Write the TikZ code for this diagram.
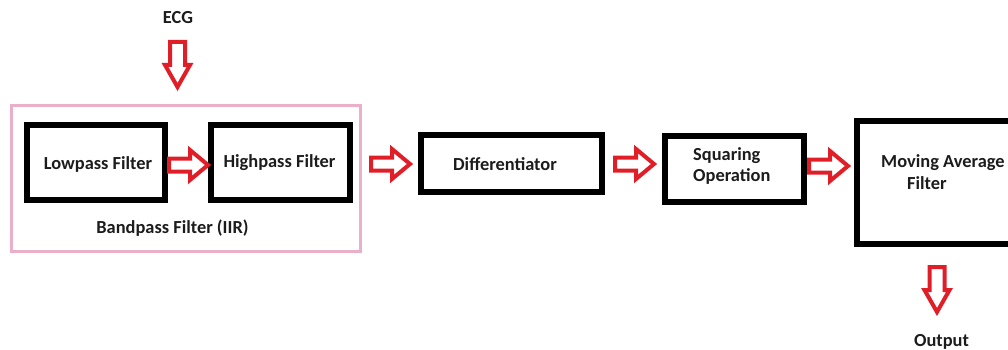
\documentclass[tikz,border=0pt]{standalone}
\usepackage{fontspec}
\setmainfont{Carlito}
\definecolor{arrowred}{RGB}{224,30,40}
\definecolor{bandpink}{RGB}{234,176,202}
\definecolor{labelblack}{RGB}{28,28,28}
\begin{document}
\begin{tikzpicture}[x=1pt,y=-1pt,
  blockbox/.style={draw=black,line width=5.5pt,rectangle,inner sep=0pt},
  lbl/.style={font=\fontsize{18.4}{21}\selectfont\bfseries,text=labelblack,inner sep=0pt,anchor=base},
  fat/.style={draw=arrowred,fill=white,line width=4pt},
  rarrow/.pic={\draw[fat] (0,-6.5)--(21,-6.5)--(21,-15)--(39,0)--(21,15)--(21,6.5)--(0,6.5)--cycle;},
  darrow/.pic={\draw[fat] (0,-7.5)--(23,-7.5)--(23,-12.5)--(45,0)--(23,12.5)--(23,7.5)--(0,7.5)--cycle;}
]
\useasboundingbox (0,0) rectangle (1008,350);
\clip (0,0) rectangle (1008,350);

% IIR bandpass group
\node[draw=bandpink,line width=3pt,minimum width=349pt,minimum height=146pt,inner sep=0pt] (bp) at (186,178.5) {};

% processing blocks
\node[blockbox,minimum width=138pt,minimum height=75pt] (lp) at (96,162.5) {};
\node[blockbox,minimum width=139pt,minimum height=75pt] (hp) at (280.5,162.5) {};
\node[blockbox,minimum width=181pt,minimum height=57pt] (diff) at (511.5,163.5) {};
\node[blockbox,minimum width=139pt,minimum height=66pt] (sq) at (734.5,169) {};
\node[blockbox,line width=6pt,minimum width=158pt,minimum height=123pt] (ma) at (936,182.5) {};

% labels
\node[lbl] (ecgtxt) at (178,23.5) {ECG};
\node[lbl] (lptxt) at (98,169) {Lowpass Filter};
\node[lbl] (hptxt) at (279.5,167) {Highpass Filter};
\node[lbl] (bptxt) at (172.5,233) {Bandpass Filter (IIR)};
\node[lbl] (difftxt) at (505,170) {Differentiator};
\node[lbl,anchor=base west] (sqtxt) at (693,160) {Squaring};
\node[lbl,anchor=base west] (sqtxt2) at (693,181) {Operation};
\node[lbl,anchor=base west] (matxt) at (881,167) {Moving Average};
\node[lbl,anchor=base west] (matxt2) at (907,189) {Filter};
\node[lbl] (outtxt) at (941.5,346) {Output};

% block arrows
\pic[rotate=-90] at (177.5,42) {darrow};
\pic at (169,165) {rarrow};
\pic at (371,164) {rarrow};
\pic at (615,164) {rarrow};
\pic at (809,166) {rarrow};
\pic[rotate=-90] at (937,267) {darrow};
\end{tikzpicture}
\end{document}
